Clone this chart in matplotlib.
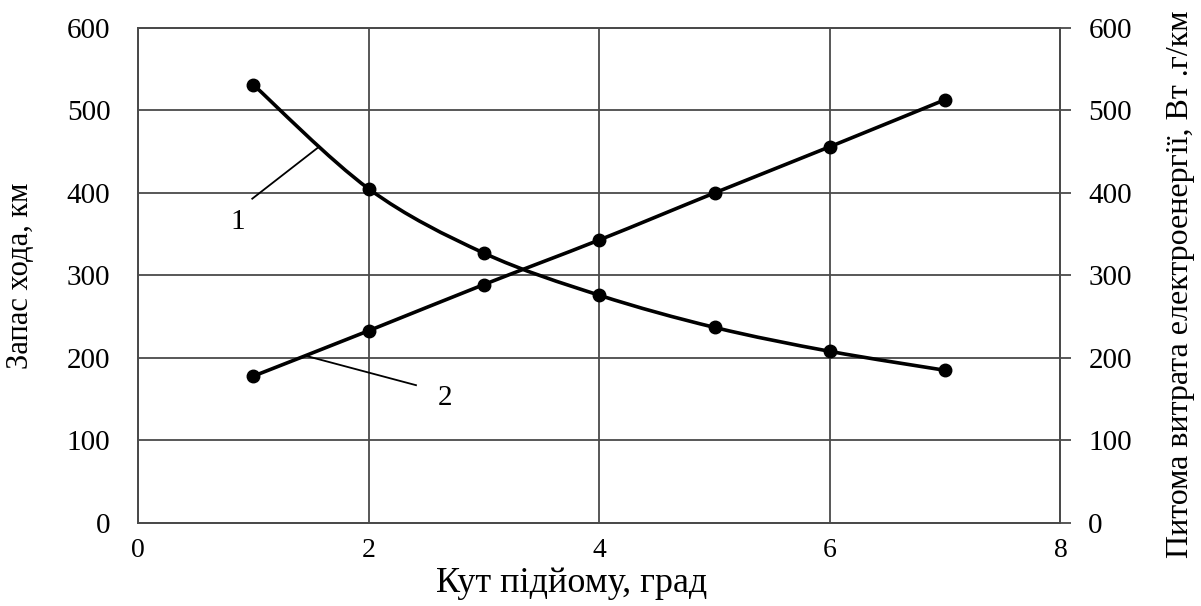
import numpy as np
import matplotlib
matplotlib.use('Agg')
import matplotlib.pyplot as plt
from matplotlib.path import Path
from matplotlib.patches import PathPatch

# data
angle = [1, 2, 3, 4, 5, 6, 7]
range_km = [531, 405, 327, 276, 237, 208, 185]        # curve 1, left axis
energy_use = [178, 233, 289, 343, 400, 456, 513]      # curve 2, right axis

x_ticks = [0, 2, 4, 6, 8]
y_ticks = [0, 100, 200, 300, 400, 500, 600]

plt.rcParams['font.family'] = ['Liberation Serif', 'DejaVu Serif']
GRID = '#4a4a4a'


def smooth_path(xs, ys):
    # Excel-style smoothed line: cubic Bezier segments through the points
    pts = np.column_stack([xs, ys]).astype(float)
    n = len(pts)
    verts = [pts[0]]
    codes = [Path.MOVETO]
    for i in range(n - 1):
        p0 = pts[i - 1] if i > 0 else pts[i]
        p1 = pts[i]
        p2 = pts[i + 1]
        p3 = pts[i + 2] if i + 2 < n else pts[i + 1]
        c1 = p1 + (p2 - p0) / 6.0
        c2 = p2 - (p3 - p1) / 6.0
        verts += [c1, c2, p2]
        codes += [Path.CURVE4] * 3
    return Path(verts, codes)


fig = plt.figure(figsize=(12.01, 6.06), dpi=100)
ax = fig.add_axes([0.115, 0.137, 0.768, 0.817])
ax2 = ax.twinx()

for a in (ax, ax2):
    a.set_xlim(0, 8)
    a.set_ylim(0, 600)
    a.set_yticks(y_ticks)
    for s in a.spines.values():
        s.set_color(GRID)
        s.set_linewidth(1.3)

ax.set_xticks(x_ticks)
ax.grid(True, color=GRID, linewidth=1.3)
ax.set_axisbelow(True)
ax.tick_params(axis='y', length=0, labelsize=21, pad=20)
ax.tick_params(axis='x', length=0, labelsize=20, pad=11)
ax2.tick_params(axis='y', length=8, width=1.3, color=GRID, labelsize=21, pad=12)

ax.add_patch(PathPatch(smooth_path(angle, range_km), fill=False, lw=2.6,
                       ec='black', transform=ax.transData, zorder=3))
ax.plot(angle, range_km, 'o', color='black', ms=9, zorder=4)
ax2.add_patch(PathPatch(smooth_path(angle, energy_use), fill=False, lw=2.6,
                        ec='black', transform=ax2.transData, zorder=3))
ax2.plot(angle, energy_use, 'o', color='black', ms=9, zorder=4)

# curve labels with leader lines
ax.plot([0.99, 1.57], [393, 456], color='black', lw=1.3, zorder=3)
ax.text(0.86, 365, '1', fontsize=21, ha='center', va='center')
ax.plot([2.41, 1.47], [167, 202], color='black', lw=1.3, zorder=3)
ax.text(2.66, 151, '2', fontsize=21, ha='center', va='center')

ax.set_xlabel('Кут підйому, град', fontsize=26)
ax.xaxis.set_label_coords(0.47, -0.088)
ax.set_ylabel('Запас хода, км', fontsize=22)
ax.yaxis.set_label_coords(-0.112, 0.5)
ax2.set_ylabel('Питома витрата електроенергії, Вт .г/км', fontsize=23)
ax2.yaxis.set_label_coords(1.114, 0.483)

fig.savefig('out.png', dpi=100)
